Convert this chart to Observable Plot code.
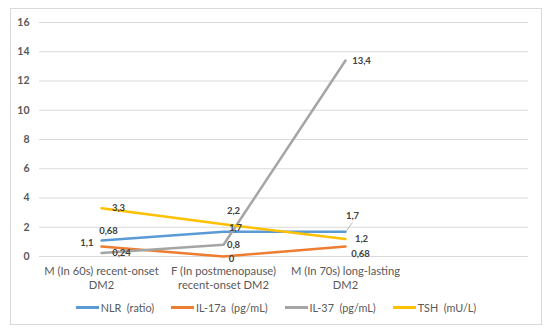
<!DOCTYPE html>
<html>
<head>
<meta charset="utf-8">
<script src="https://cdn.jsdelivr.net/npm/d3@7"></script>
<script src="https://cdn.jsdelivr.net/npm/@observablehq/plot@0.6"></script>
<style>
  html, body { margin: 0; padding: 0; background: #fff; }
  body { width: 550px; height: 333px; position: relative; overflow: hidden; font-family: Lato, "Open Sans", sans-serif; }
  #frame { position: absolute; left: 10px; top: 8px; width: 532px; height: 317px; box-sizing: border-box; border: 1px solid #d9d9d9; }
  #legend { position: absolute; left: 0; right: 0; top: 292px; display: flex; justify-content: center; align-items: center; gap: 17px; font-size: 10.8px; color: #595959; }
  .item { display: flex; align-items: center; white-space: pre; }
  .sw { width: 23px; height: 3px; margin-right: 2px; }
</style>
</head>
<body>
<div id="frame"><div id="chart"></div><div id="legend"></div></div>
<script>
const categories = ["M (In 60s) recent-onset DM2", "F (In postmenopause) recent-onset DM2", "M (In 70s) long-lasting DM2"];
const categoryLabels = ["M (In 60s) recent-onset\nDM2", "F (In postmenopause)\nrecent-onset DM2", "M (In 70s) long-lasting\nDM2"];
const seriesNames = ["NLR  (ratio)", "IL-17a  (pg/mL)", "IL-37  (pg/mL)", "TSH  (mU/L)"];
const nlr = [1.1, 1.7, 1.7];
const il17a = [0.68, 0, 0.68];
const il37 = [0.24, 0.8, 13.4];
const tsh = [3.3, 2.2, 1.2];
const valueLabels = {
  "NLR  (ratio)": ["1,1", "1,7", "1,7"],
  "IL-17a  (pg/mL)": ["0,68", "0", "0,68"],
  "IL-37  (pg/mL)": ["0,24", "0,8", "13,4"],
  "TSH  (mU/L)": ["3,3", "2,2", "1,2"]
};
const yTicks = [0, 2, 4, 6, 8, 10, 12, 14, 16];
const colors = ["#5B9BD5", "#ED7D31", "#A5A5A5", "#FFC000"];

const seriesValues = [nlr, il17a, il37, tsh];
const rows = [];
seriesNames.forEach((s, si) => {
  categories.forEach((c, ci) => {
    rows.push({series: s, category: c, value: seriesValues[si][ci], label: valueLabels[s][ci], si, ci});
  });
});

// label placement offsets [dx, dy] per series / category
const labelOffsets = [
  [[-8, 3], [12, -4], [7, -16]],
  [[7, -16], [8, 2], [15, 7]],
  [[20, 0], [10, 0], [16, 0]],
  [[17, 0], [10, -13], [16, 0]]
];
const anchors = [["end", "middle", "middle"], ["middle","middle","middle"], ["middle","middle","middle"], ["middle","middle","middle"]];

const catLabelMap = new Map(categories.map((c, i) => [c, categoryLabels[i]]));
const domainX = [...categories, "_blank"];

const labelMarks = rows.map(r => Plot.text([r], {
  x: "category", y: "value", text: "label",
  dx: labelOffsets[r.si][r.ci][0], dy: labelOffsets[r.si][r.ci][1],
  textAnchor: anchors[r.si][r.ci],
  fill: "#404040", fontSize: 9.5, fontWeight: "bold"
}));

const nlrLast = rows.filter(r => r.si === 0 && r.ci === 2);

const chart = Plot.plot({
  width: 530,
  height: 288,
  marginLeft: 28,
  marginRight: 13,
  marginTop: 13,
  marginBottom: 41,
  style: {fontFamily: "Lato, 'Open Sans', sans-serif", color: "#595959", background: "transparent"},
  x: {type: "point", domain: domainX, padding: 0.5, label: null},
  y: {domain: [0, 16], label: null},
  marks: [
    Plot.gridY(yTicks, {stroke: "#d9d9d9", strokeOpacity: 1, strokeWidth: 1}),
    Plot.axisY(yTicks, {tickSize: 0, tickPadding: 10, fontSize: 10.5, fontWeight: "bold", label: null, tickFormat: d => String(d)}),
    Plot.axisX(categories, {tickSize: 0, tickPadding: 9, fontSize: 11.2, lineHeight: 1.25, label: null, tickFormat: d => catLabelMap.get(d) ?? ""}),
    Plot.line(rows, {x: "category", y: "value", z: "series", stroke: "series", strokeWidth: 2.5, strokeLinejoin: "round"}),
    Plot.link(nlrLast, {x1: "category", y1: "value", x2: "category", y2: "value", stroke: "#a6a6a6", strokeWidth: 0.8,
      render: (index, scales, values, dimensions, context, next) => {
        const g = next(index, scales, values, dimensions, context);
        d3.select(g).selectAll("path").attr("d", function() {
          const d = d3.select(this).attr("d");
          const m = /M([\d.\-]+),([\d.\-]+)/.exec(d);
          const x = +m[1], y = +m[2];
          return `M${x + 1},${y - 1}L${x + 7},${y - 9}`;
        });
        return g;
      }}),
    ...labelMarks
  ],
  color: {domain: seriesNames, range: colors}
});
document.getElementById("chart").appendChild(chart);

const legend = document.getElementById("legend");
seriesNames.forEach((s, i) => {
  const it = document.createElement("div");
  it.className = "item";
  const sw = document.createElement("span");
  sw.className = "sw";
  sw.style.background = colors[i];
  const t = document.createElement("span");
  t.textContent = s;
  it.appendChild(sw); it.appendChild(t);
  legend.appendChild(it);
});
</script>
</body>
</html>
